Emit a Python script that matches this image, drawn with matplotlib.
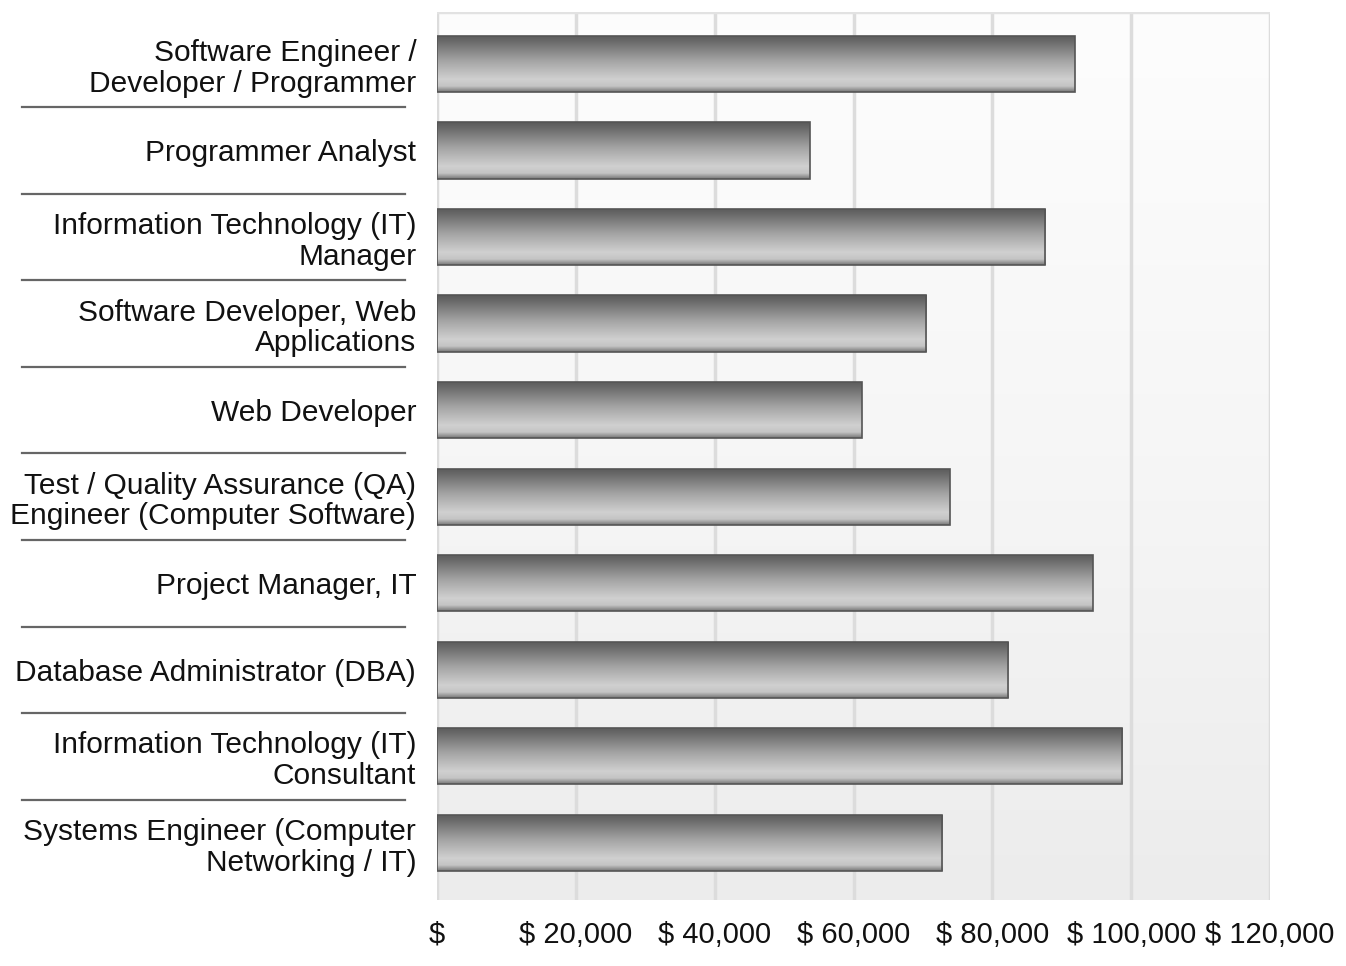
import numpy as np
import matplotlib
matplotlib.use('Agg')
import matplotlib.pyplot as plt
from matplotlib.colors import LinearSegmentedColormap
from matplotlib.transforms import blended_transform_factory

plt.rcParams['font.family'] = ['Liberation Sans', 'DejaVu Sans']

# job titles, top to bottom
jobs = [
    'Software Engineer /\nDeveloper / Programmer',
    'Programmer Analyst',
    'Information Technology (IT)\nManager',
    'Software Developer, Web\nApplications',
    'Web Developer',
    'Test / Quality Assurance (QA)\nEngineer (Computer Software)',
    'Project Manager, IT',
    'Database Administrator (DBA)',
    'Information Technology (IT)\nConsultant',
    'Systems Engineer (Computer\nNetworking / IT)',
]
salaries = [91900, 53700, 87600, 70500, 61200, 73900, 94500, 82300, 98700, 72800]
ticks = [0, 20000, 40000, 60000, 80000, 100000, 120000]
tick_labels = ['$', '$ 20,000', '$ 40,000', '$ 60,000', '$ 80,000', '$ 100,000', '$ 120,000']

fig = plt.figure(figsize=(13.46, 9.66), dpi=100)
ax = fig.add_axes([437 / 1346, 66 / 966, 833 / 1346, 888 / 966])

xmax = 120000
ylo, yhi = 9.66, -0.6
ax.set_xlim(0, xmax)
ax.set_ylim(ylo, yhi)

# background: white at top fading to light gray
bg_cmap = LinearSegmentedColormap.from_list('bg', ['#fdfdfd', '#f6f6f6', '#ececec'])
ax.imshow(np.linspace(0, 1, 256).reshape(-1, 1), cmap=bg_cmap, aspect='auto',
          extent=[0, xmax, ylo, yhi], origin='upper', zorder=0)

for t in ticks:
    ax.axvline(t, color='#dcdcdc', lw=2.5, zorder=1)
ax.axhline(yhi, color='#e2e2e2', lw=2.5, zorder=1)

# bar shading: dark on top, light lower half, darker rim at bottom
bar_cmap = LinearSegmentedColormap.from_list(
    'bar', [(0.0, '#5a5a5a'), (0.12, '#6c6c6c'), (0.45, '#a4a4a4'),
            (0.78, '#d0d0d0'), (0.9, '#c4c4c4'), (1.0, '#777777')])
grad = np.linspace(0, 1, 128).reshape(-1, 1)

y = np.arange(len(jobs))
bars = ax.barh(y, salaries, height=0.65, color='none', edgecolor='#555555',
               linewidth=1.2, zorder=3)
for b in bars:
    x0, y0 = b.get_x(), b.get_y()
    w, h = b.get_width(), b.get_height()
    im = ax.imshow(grad, cmap=bar_cmap, aspect='auto',
                   extent=[x0, x0 + w, y0 + h, y0], origin='upper', zorder=2)
    im.set_clip_path(b)
ax.set_xlim(0, xmax)
ax.set_ylim(ylo, yhi)

ax.set_yticks(y)
ax.set_yticklabels(jobs, fontsize=21.5, color='#111111', linespacing=1.12)
ax.set_xticks(ticks)
ax.set_xticklabels(tick_labels, fontsize=21, color='#111111')
ax.tick_params(axis='both', length=0)
ax.tick_params(axis='y', pad=15)
ax.tick_params(axis='x', pad=15)
for s in ax.spines.values():
    s.set_visible(False)

# separator lines between the category labels
trans = blended_transform_factory(fig.transFigure, ax.transData)
for k in range(len(jobs) - 1):
    ax.plot([22 / 1346, 405 / 1346], [k + 0.5, k + 0.5], transform=trans,
            color='#666666', lw=1.6, clip_on=False)

fig.savefig('out.png', dpi=100)
